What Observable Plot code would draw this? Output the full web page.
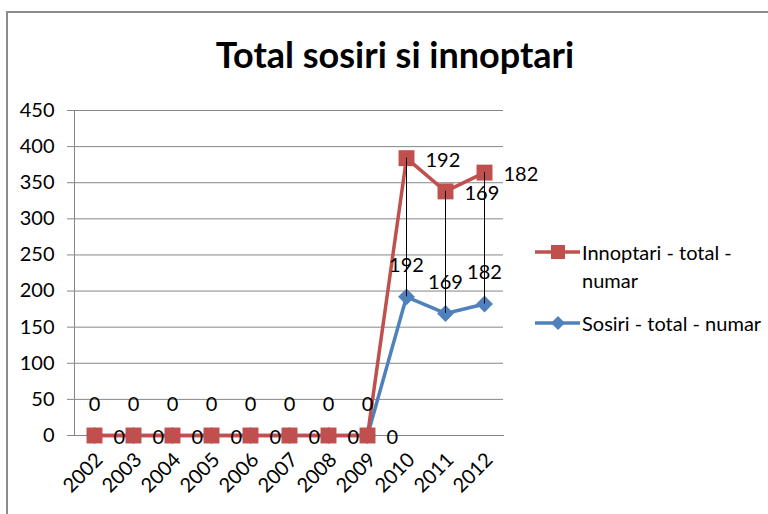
<!DOCTYPE html>
<html>
<head>
<meta charset="utf-8">
<script src="https://cdn.jsdelivr.net/npm/d3@7"></script>
<script src="https://cdn.jsdelivr.net/npm/@observablehq/plot@0.6"></script>
<style>
  html, body { margin: 0; padding: 0; background: #fff; overflow: hidden; }
  #wrap { position: relative; width: 768px; height: 514px; overflow: hidden; font-family: Lato, "Open Sans", sans-serif; color: #000; }
  #border { position: absolute; left: 6px; top: 11px; width: 900px; height: 700px; border: 2px solid #8c8c8c; box-sizing: border-box; }
  #title { position: absolute; left: 0; top: 36px; width: 790px; text-align: center; font-weight: bold; font-size: 36px; line-height: 1; white-space: nowrap; }
  #chart { position: absolute; left: 0; top: 0; }
  .leg { position: absolute; left: 535px; font-size: 20px; line-height: 28px; }
  .leg svg { position: absolute; left: 0; top: 0; }
  .leg span { position: absolute; left: 47px; top: 0; white-space: nowrap; }
</style>
</head>
<body>
<div id="wrap">
  <div id="border"></div>
  <div id="title">Total sosiri si innoptari</div>
  <div id="chart"></div>
  <div id="legend"></div>
</div>
<script>
const years = ["2002", "2003", "2004", "2005", "2006", "2007", "2008", "2009", "2010", "2011", "2012"];
const sosiri = [0, 0, 0, 0, 0, 0, 0, 0, 192, 169, 182];
const innoptari = [0, 0, 0, 0, 0, 0, 0, 0, 192, 169, 182];
const yTicks = [0, 50, 100, 150, 200, 250, 300, 350, 400, 450];
const seriesNames = ["Innoptari - total - numar", "Sosiri - total - numar"];
const colors = { innoptari: "#C0504D", sosiri: "#4F81BD" };

const data = years.map((year, i) => ({
  year,
  s: sosiri[i],
  n: innoptari[i],
  total: sosiri[i] + innoptari[i]
}));

const gray = "#868686";
const fs = 20;

const chart = Plot.plot({
  width: 768,
  height: 514,
  marginLeft: 74,
  marginRight: 265,
  marginTop: 110,
  marginBottom: 79,
  style: { fontFamily: "Lato, 'Open Sans', sans-serif", fontSize: fs + "px", color: "#000", background: "transparent", overflow: "visible" },
  x: { type: "point", domain: years, padding: 0.5 },
  y: { domain: [0, 450] },
  marks: [
    Plot.gridY(yTicks, { stroke: gray, strokeOpacity: 1 }),
    Plot.frame({ anchor: "left", stroke: gray }),
    Plot.frame({ anchor: "bottom", stroke: gray }),
    Plot.axisY({ ticks: yTicks, tickSize: 7, tickPadding: 13, stroke: gray, label: null, fontSize: fs }),
    Plot.axisX({ tickSize: 0, tickRotate: -45, tickPadding: 21, dx: 5, label: null, fontSize: fs }),
    Plot.lineY(data, { x: "year", y: "s", stroke: colors.sosiri, strokeWidth: 3.5 }),
    Plot.dot(data, { x: "year", y: "s", symbol: "diamond2", r: 7.6, fill: colors.sosiri }),
    Plot.lineY(data, { x: "year", y: "total", stroke: colors.innoptari, strokeWidth: 3.5 }),
    Plot.dot(data, { x: "year", y: "total", symbol: "square", r: 9, fill: colors.innoptari }),
    Plot.ruleX(data, { x: "year", y1: "s", y2: "total", stroke: "#000", strokeWidth: 1 }),
    Plot.text(data, { x: "year", y: "s", text: d => String(d.s), dy: -31, fontSize: fs, fill: "#000" }),
    Plot.text(data, { x: "year", y: "total", text: d => String(d.n), textAnchor: "start", dx: 19, dy: 2, fontSize: fs, fill: "#000" })
  ]
});
document.getElementById("chart").appendChild(chart);

// legend
const legend = document.getElementById("legend");
const items = [
  { name: seriesNames[0], color: colors.innoptari, symbol: "square", top: 238, lines: ["Innoptari - total -", "numar"] },
  { name: seriesNames[1], color: colors.sosiri, symbol: "diamond", top: 309, lines: ["Sosiri - total - numar"] }
];
for (const it of items) {
  const div = document.createElement("div");
  div.className = "leg";
  div.style.top = it.top + "px";
  const marker = it.symbol === "square"
    ? `<rect x="16" y="7" width="14" height="14" fill="${it.color}"/>`
    : `<path d="M23,7 L30,14 L23,21 L16,14 Z" fill="${it.color}"/>`;
  div.innerHTML = `<svg width="46" height="28"><line x1="0" x2="45" y1="14" y2="14" stroke="${it.color}" stroke-width="3.5"/>${marker}</svg><span>${it.lines.join("<br>")}</span>`;
  legend.appendChild(div);
}
</script>
</body>
</html>
